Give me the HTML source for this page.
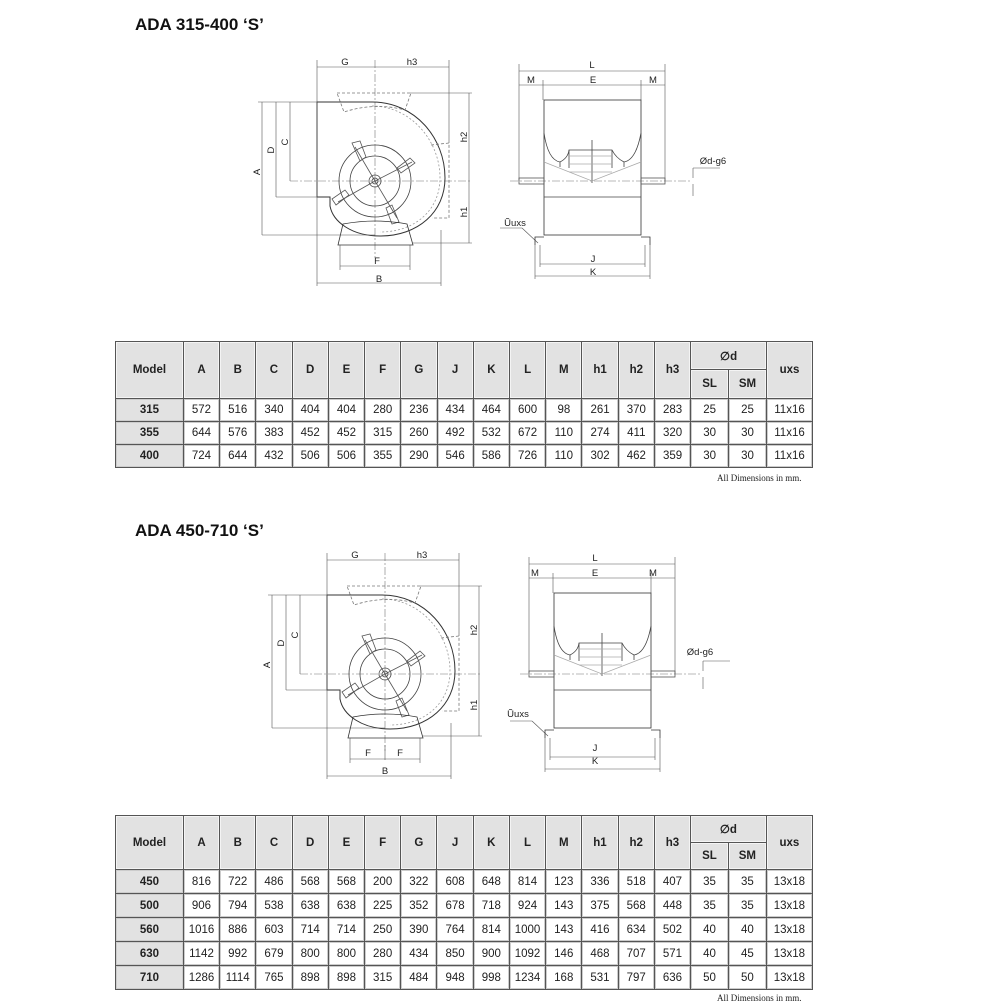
<!DOCTYPE html>
<html><head><meta charset="utf-8"><style>
body{margin:0;background:#fff;width:1000px;height:1000px;overflow:hidden;position:relative;font-family:"Liberation Sans",Arial,sans-serif}
.t{position:absolute;left:135px;font-weight:bold;font-size:17px;color:#111}
table{position:absolute;left:115px;border-collapse:collapse;font-family:"Liberation Sans",sans-serif;font-size:11.5px;color:#222}
td{border:1px solid #555;text-align:center;padding:0;box-shadow:inset 0 0 0 1px #ccc}
th{border:1px solid #555;background:#e2e2e2;font-weight:bold;font-size:11.5px;padding:0;box-shadow:inset 0 0 0 1px #f4f4f4}
td.m{background:#e2e2e2;font-weight:bold}
.note{position:absolute;font-family:"Liberation Serif",serif;font-size:9px;color:#222}
svg{position:absolute;left:0;top:0}
</style></head><body>
<div class="t" style="top:15px">ADA 315-400 ‘S’</div>
<div class="t" style="top:521px">ADA 450-710 ‘S’</div>

<svg width="1000" height="1000" viewBox="0 0 1000 1000">
<defs>
<g id="drw" fill="none" stroke="#444" stroke-width="0.8">
 <g stroke="#777" stroke-width="0.6" stroke-dasharray="8,2,2,2">
  <line x1="375" y1="60" x2="375" y2="258"/>
  <line x1="290" y1="181" x2="472" y2="181"/>
  <line x1="510" y1="181" x2="690" y2="181"/>
 </g>
 <path d="M317,102 H372 C415,102 445,138 445,178 C445,212 418,236 380,236 C352,236 333,222 330,206 L330,197 H317 Z" stroke="#333" stroke-width="1"/>
 <path d="M372,106 C410,106 440,140 440,178 C440,210 415,232 380,232" stroke="#999" stroke-dasharray="2,2"/>
 <circle cx="375" cy="181" r="36"/>
 <circle cx="375" cy="181" r="25"/>
 <circle cx="375" cy="181" r="6"/>
 <circle cx="375" cy="181" r="3"/>
 <g stroke="#555">
  <line x1="375" y1="181" x2="355" y2="147"/><line x1="375" y1="181" x2="412" y2="162"/>
  <line x1="375" y1="181" x2="397" y2="218"/><line x1="375" y1="181" x2="338" y2="202"/>
  <path d="M352,143 l8,-2 6,16 -6,4 z M410,158 l5,5 -14,10 -4,-5 z M399,222 l-7,2 -6,-16 6,-3 z M336,205 l-4,-6 13,-9 4,5 z"/>
 </g>
 <path d="M343,224 Q376,218 407,224 L413,245 H338 Z" stroke="#333"/>
 <path d="M337,93 H411 L405,110 Q375,102 344,112 Z" stroke="#777" stroke-dasharray="3,2"/>
 <path d="M431,145 L449,143 V218 H432" stroke="#777" stroke-dasharray="3,2"/>
 <g stroke="#555" stroke-width="0.6">
  <line x1="317" y1="60" x2="317" y2="286"/><line x1="449" y1="60" x2="449" y2="143"/>
  <line x1="441" y1="230" x2="441" y2="286"/>
  <line x1="317" y1="67" x2="449" y2="67"/>
  <line x1="258" y1="102" x2="317" y2="102"/>
  <line x1="276" y1="197" x2="317" y2="197"/>
  <line x1="262" y1="235" x2="375" y2="235"/>
  <line x1="262" y1="102" x2="262" y2="235"/><line x1="276" y1="102" x2="276" y2="197"/><line x1="290" y1="102" x2="290" y2="181"/>
  <line x1="410" y1="93" x2="472" y2="93"/><line x1="413" y1="243" x2="472" y2="243"/>
  <line x1="469" y1="93" x2="469" y2="243"/>
  <line x1="340" y1="245" x2="340" y2="270"/><line x1="410" y1="245" x2="410" y2="270"/>
  <line x1="340" y1="266" x2="410" y2="266"/>
  <line x1="317" y1="283" x2="441" y2="283"/>
  <line x1="519" y1="64" x2="519" y2="181"/><line x1="665" y1="64" x2="665" y2="181"/>
  <line x1="543" y1="80" x2="543" y2="100"/><line x1="641" y1="80" x2="641" y2="100"/>
  <line x1="519" y1="71" x2="665" y2="71"/><line x1="519" y1="85" x2="665" y2="85"/>
  <line x1="540" y1="245" x2="540" y2="267"/><line x1="645" y1="245" x2="645" y2="267"/>
  <line x1="535" y1="245" x2="535" y2="279"/><line x1="650" y1="245" x2="650" y2="279"/>
  <line x1="540" y1="264" x2="645" y2="264"/><line x1="535" y1="276" x2="650" y2="276"/>
  <line x1="693" y1="168" x2="693" y2="178"/><line x1="693" y1="184" x2="693" y2="196"/>
  <line x1="693" y1="168" x2="720" y2="168"/>
  <line x1="500" y1="228" x2="522" y2="228"/><line x1="522" y1="228" x2="538" y2="243"/>
 </g>
 <rect x="544" y="100" width="97" height="135" stroke="#333"/>
 <line x1="544" y1="197" x2="641" y2="197"/>
 <path d="M544,133 Q548,160 560,162 Q568,158 569,150 H612 Q616,158 624,162 Q636,160 641,133"/>
 <path d="M560,162 V167 M624,162 V167 M569,150 V168 M612,150 V168 M592,140 V183"/>
 <path d="M544,162 L592,181 L641,162" stroke="#aaa"/>
 <path d="M569,156 H612 M569,164 H612 M569,172 H612" stroke="#aaa"/>
 <rect x="519" y="178" width="25" height="6" stroke="#555"/><rect x="641" y="178" width="24" height="6" stroke="#555"/>
 <path d="M535,245 V237 H544 M641,237 H650 V245" stroke="#333"/>
</g>
</defs>
<use href="#drw"/>
<use href="#drw" transform="translate(10,493)"/>
<g font-family="Liberation Sans,sans-serif" font-size="9.5" fill="#222" text-anchor="middle">
 <text x="345" y="65">G</text><text x="412" y="65">h3</text>
 <text x="260" y="172" transform="rotate(-90 260 172)">A</text>
 <text x="274" y="150" transform="rotate(-90 274 150)">D</text>
 <text x="288" y="142" transform="rotate(-90 288 142)">C</text>
 <text x="467" y="137" transform="rotate(-90 467 137)">h2</text>
 <text x="467" y="212" transform="rotate(-90 467 212)">h1</text>
 <text x="377" y="264">F</text><text x="379" y="282">B</text>
 <text x="592" y="68">L</text><text x="531" y="83">M</text><text x="593" y="83">E</text><text x="653" y="83">M</text>
 <text x="593" y="262">J</text><text x="593" y="275">K</text>
 <text x="713" y="164">Ød-g6</text><text x="515" y="226">Ũuxs</text>

 <text x="355" y="558">G</text><text x="422" y="558">h3</text>
 <text x="270" y="665" transform="rotate(-90 270 665)">A</text>
 <text x="284" y="643" transform="rotate(-90 284 643)">D</text>
 <text x="298" y="635" transform="rotate(-90 298 635)">C</text>
 <text x="477" y="630" transform="rotate(-90 477 630)">h2</text>
 <text x="477" y="705" transform="rotate(-90 477 705)">h1</text>
 <text x="368" y="756">F</text><text x="400" y="756">F</text><text x="385" y="774">B</text>
 <text x="595" y="561">L</text><text x="535" y="576">M</text><text x="595" y="576">E</text><text x="653" y="576">M</text>
 <text x="595" y="751">J</text><text x="595" y="764">K</text>
 <text x="700" y="655">Ød-g6</text><text x="518" y="717">Ũuxs</text>
</g>
<line x1="385" y1="745" x2="385" y2="760" stroke="#555" stroke-width="0.6"/>
</svg>

<table style="top:341px;width:698px">
<colgroup><col style="width:68px"><col span="14" style="width:36.3px"><col span="2" style="width:38px"><col style="width:46px"></colgroup>
<tr style="height:28px"><th rowspan="2">Model</th><th rowspan="2">A</th><th rowspan="2">B</th><th rowspan="2">C</th><th rowspan="2">D</th><th rowspan="2">E</th><th rowspan="2">F</th><th rowspan="2">G</th><th rowspan="2">J</th><th rowspan="2">K</th><th rowspan="2">L</th><th rowspan="2">M</th><th rowspan="2">h1</th><th rowspan="2">h2</th><th rowspan="2">h3</th><th colspan="2">∅d</th><th rowspan="2">uxs</th></tr>
<tr style="height:29px"><th>SL</th><th>SM</th></tr>
<tr style="height:23px"><td class="m">315</td><td>572</td><td>516</td><td>340</td><td>404</td><td>404</td><td>280</td><td>236</td><td>434</td><td>464</td><td>600</td><td>98</td><td>261</td><td>370</td><td>283</td><td>25</td><td>25</td><td>11x16</td></tr>
<tr style="height:23px"><td class="m">355</td><td>644</td><td>576</td><td>383</td><td>452</td><td>452</td><td>315</td><td>260</td><td>492</td><td>532</td><td>672</td><td>110</td><td>274</td><td>411</td><td>320</td><td>30</td><td>30</td><td>11x16</td></tr>
<tr style="height:23px"><td class="m">400</td><td>724</td><td>644</td><td>432</td><td>506</td><td>506</td><td>355</td><td>290</td><td>546</td><td>586</td><td>726</td><td>110</td><td>302</td><td>462</td><td>359</td><td>30</td><td>30</td><td>11x16</td></tr>
</table>
<div class="note" style="left:717px;top:473px">All Dimensions in mm.</div>

<table style="top:815px;width:698px">
<colgroup><col style="width:68px"><col span="14" style="width:36.3px"><col span="2" style="width:38px"><col style="width:46px"></colgroup>
<tr style="height:27px"><th rowspan="2">Model</th><th rowspan="2">A</th><th rowspan="2">B</th><th rowspan="2">C</th><th rowspan="2">D</th><th rowspan="2">E</th><th rowspan="2">F</th><th rowspan="2">G</th><th rowspan="2">J</th><th rowspan="2">K</th><th rowspan="2">L</th><th rowspan="2">M</th><th rowspan="2">h1</th><th rowspan="2">h2</th><th rowspan="2">h3</th><th colspan="2">∅d</th><th rowspan="2">uxs</th></tr>
<tr style="height:27px"><th>SL</th><th>SM</th></tr>
<tr style="height:24px"><td class="m">450</td><td>816</td><td>722</td><td>486</td><td>568</td><td>568</td><td>200</td><td>322</td><td>608</td><td>648</td><td>814</td><td>123</td><td>336</td><td>518</td><td>407</td><td>35</td><td>35</td><td>13x18</td></tr>
<tr style="height:24px"><td class="m">500</td><td>906</td><td>794</td><td>538</td><td>638</td><td>638</td><td>225</td><td>352</td><td>678</td><td>718</td><td>924</td><td>143</td><td>375</td><td>568</td><td>448</td><td>35</td><td>35</td><td>13x18</td></tr>
<tr style="height:24px"><td class="m">560</td><td>1016</td><td>886</td><td>603</td><td>714</td><td>714</td><td>250</td><td>390</td><td>764</td><td>814</td><td>1000</td><td>143</td><td>416</td><td>634</td><td>502</td><td>40</td><td>40</td><td>13x18</td></tr>
<tr style="height:24px"><td class="m">630</td><td>1142</td><td>992</td><td>679</td><td>800</td><td>800</td><td>280</td><td>434</td><td>850</td><td>900</td><td>1092</td><td>146</td><td>468</td><td>707</td><td>571</td><td>40</td><td>45</td><td>13x18</td></tr>
<tr style="height:24px"><td class="m">710</td><td>1286</td><td>1114</td><td>765</td><td>898</td><td>898</td><td>315</td><td>484</td><td>948</td><td>998</td><td>1234</td><td>168</td><td>531</td><td>797</td><td>636</td><td>50</td><td>50</td><td>13x18</td></tr>
</table>
<div class="note" style="left:717px;top:993px">All Dimensions in mm.</div>
</body></html>
